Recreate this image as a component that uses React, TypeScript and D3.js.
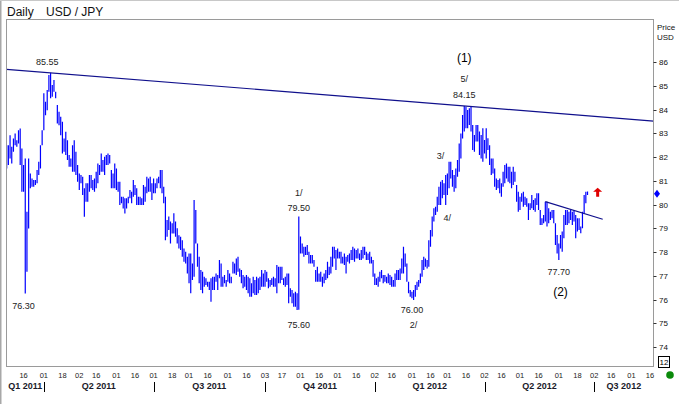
import React from 'react';
import * as d3 from 'd3';

// axis starts on this weekday, the first bar is the next one
const AXIS_START = '2011-03-01';
const AXIS_LAST_TICK = '2012-08-16';

// daily highs / lows, USD/JPY, 2011-03-02 .. 2012-06-25 (weekdays)
const highs = [
  82.5, 82.5, 82.92, 82.43, 82.78, 82.99, 82.71, 83.13, 83.2, 82.36, 81.66, 81.94, 79.69, 81.94, 81.31, 81.1, 81.03, 81.03, 81.45, 81.8, 82.5, 83.13,
  84.68, 84.33, 84.82, 85.45, 85.55, 85.03, 85.24, 84.75, 84.19, 83.91, 83.69, 83.48, 82.78, 83.06, 82.71, 82.08, 81.94,
  82.5, 82.71, 82.22, 81.66, 81.31, 81.24, 81.17, 80.68, 80.89, 80.89, 81.24, 81.24, 81.03, 81.1, 81.38, 81.73, 81.66, 82.15, 81.87, 82.01, 82.08, 82.15, 82.08,
  81.45, 81.31, 81.73, 81.52, 80.96, 80.96, 80.33, 80.33, 80.26, 80.26, 80.33, 80.61, 80.54, 81.03, 80.82, 80.68, 80.33, 80.33, 80.26, 80.82, 80.75,
  81.17, 81.1, 81.17, 80.89, 81.1, 80.89, 81.1, 81.17, 81.45, 81.45, 80.75, 80.33, 79.35, 79.49, 79.28, 79.21, 79.63, 79.28, 79.0, 78.71, 78.64, 78.5,
  78.15, 78.01, 77.8, 77.94, 77.94, 77.52, 80.19, 79.77,
  78.36, 77.8, 77.24, 77.17, 76.96, 76.89, 76.75, 76.75, 76.89, 76.96, 76.96, 77.1, 77.03, 77.66, 77.52, 76.96, 77.03, 76.82, 77.24, 77.1, 76.96,
  77.59, 77.52, 77.73, 77.8, 77.31, 77.24, 77.03, 76.96, 77.03, 76.96, 76.89, 76.68, 76.96, 76.82, 76.96, 76.89, 76.96, 77.24, 77.1, 77.24, 77.17,
  76.89, 76.82, 76.89, 76.96, 76.89, 77.45, 77.38, 77.38, 77.38, 76.89, 76.96, 77.1, 77.1, 76.47, 76.4, 76.26, 76.33, 76.26, 79.5,
  78.65, 78.36, 78.22, 78.22, 78.29, 78.01, 77.87, 77.87, 77.66, 77.24, 77.38, 77.1,
  77.17, 76.96, 77.1, 77.24, 77.59, 77.38, 77.8, 78.22, 78.22, 78.08, 78.15, 78.01, 78.01, 77.8, 77.94, 77.8, 77.87, 77.94, 78.08, 78.22, 78.15,
  78.08, 78.15, 77.94, 78.08, 78.22, 78.22, 78.01, 77.94, 78.01, 77.8, 77.66, 77.1, 76.89, 76.96, 77.17, 77.24, 77.03, 77.03, 76.96, 77.1, 77.03,
  76.96, 76.82, 77.1, 77.24, 77.24, 77.31, 77.73, 78.22, 77.94, 77.52, 76.75, 76.4, 76.33, 76.4, 76.61, 76.75, 76.82, 77.1, 77.66, 77.8, 77.73,
  77.66, 78.5, 78.93, 79.49, 79.84,
  79.91, 80.33, 80.75, 80.96, 81.03, 80.89, 81.24, 81.31, 81.8, 81.8, 81.45, 81.24, 81.52, 81.87, 82.57, 82.99, 83.77, 84.15, 84.12,
  83.98, 84.05, 84.12, 83.35, 82.93, 83.35, 83.35, 83.07, 82.93, 83.21, 82.72, 83.21, 82.79, 82.5, 81.94, 81.94, 81.52, 81.1, 81.03, 81.1, 80.89,
  81.38, 81.66, 81.73, 81.59, 81.59, 81.38, 81.59, 81.38, 80.82, 80.54, 80.33, 80.47, 80.54, 80.33, 80.26, 80.05, 80.05, 80.4, 80.19, 80.26, 80.47,
  80.47, 79.77, 79.42, 79.56, 80.12, 80.12, 79.84, 79.7, 79.77, 79.77, 79.21, 78.72, 78.36, 78.72, 78.86, 79.56, 79.77, 79.77, 79.7, 79.77, 79.7,
  79.77, 79.56, 79.42, 79.42, 79.07, 79.7, 80.4, 80.54, 80.55,
];
const lows = [
  81.52, 81.66, 81.94, 81.73, 82.22, 82.5, 82.43, 82.57, 81.66, 80.54, 80.54, 76.25, 77.17, 78.99, 80.68, 80.75, 80.75, 80.82, 80.89, 81.24, 81.52, 82.5,
  83.13, 83.76, 83.97, 84.75, 84.47, 84.54, 84.75, 84.47, 83.41, 83.34, 82.92, 82.15, 82.22, 82.08, 81.87, 81.59, 81.59,
  81.38, 81.38, 81.24, 80.96, 80.61, 80.89, 80.4, 79.48, 80.12, 80.12, 80.54, 80.68, 80.61, 80.54, 80.68, 80.89, 81.24, 81.38, 81.38, 81.24, 81.66, 81.66, 81.73,
  80.68, 80.68, 80.68, 80.61, 80.54, 79.98, 80.05, 79.83, 79.62, 79.83, 80.05, 80.26, 80.05, 80.33, 80.4, 79.98, 79.98, 79.98, 79.98, 79.98, 80.12,
  80.47, 80.54, 80.54, 80.19, 80.47, 80.47, 80.68, 80.89, 80.68, 80.47, 80.05, 78.5, 78.64, 78.93, 78.36, 78.78, 78.78, 78.64, 78.36, 78.15, 78.08, 77.8,
  77.59, 77.52, 77.1, 76.68, 76.26, 76.82, 76.96, 78.36,
  77.38, 76.68, 76.4, 76.26, 76.54, 76.61, 76.54, 76.4, 75.91, 76.4, 76.4, 76.75, 76.4, 76.89, 76.54, 76.54, 76.68, 76.54, 76.75, 76.68, 76.68,
  77.1, 77.1, 77.03, 77.17, 76.96, 76.68, 76.47, 76.54, 76.4, 76.26, 76.12, 76.12, 76.26, 76.19, 76.19, 76.26, 76.4, 76.54, 76.54, 76.54, 76.75,
  76.47, 76.54, 76.61, 76.54, 76.54, 76.26, 76.68, 76.68, 76.82, 76.61, 76.54, 76.61, 75.84, 76.12, 75.84, 75.7, 75.7, 75.56, 75.57,
  77.94, 77.94, 77.8, 77.87, 77.87, 77.52, 77.52, 77.52, 77.38, 76.75, 76.75, 76.75,
  76.75, 76.54, 76.68, 76.82, 76.89, 77.03, 77.1, 77.38, 77.73, 77.24, 77.73, 77.73, 77.52, 77.52, 77.45, 77.1, 77.59, 77.52, 77.66, 77.66, 77.59,
  77.73, 77.73, 77.66, 77.66, 77.73, 77.87, 77.66, 77.66, 77.52, 77.52, 76.96, 76.61, 76.61, 76.54, 76.75, 76.89, 76.68, 76.75, 76.68, 76.68, 76.61,
  76.54, 76.54, 76.54, 76.82, 76.82, 76.82, 77.1, 77.1, 77.38, 76.75, 76.26, 76.12, 76.05, 75.98, 76.12, 76.4, 76.54, 76.68, 76.96, 77.24, 77.38,
  77.31, 77.38, 78.22, 78.65, 79.28,
  79.56, 79.7, 79.98, 79.98, 80.26, 80.4, 79.98, 80.4, 80.68, 81.1, 80.75, 80.54, 80.68, 81.17, 81.38, 81.94, 82.78, 83.07, 83.21,
  83.21, 83.35, 83.07, 82.29, 82.22, 82.65, 82.65, 82.08, 81.94, 81.8, 82.15, 81.94, 82.29, 81.66, 81.24, 81.31, 80.75, 80.61, 80.68, 80.47, 80.33,
  80.75, 80.89, 81.1, 80.96, 80.89, 80.68, 80.82, 80.96, 80.12, 79.7, 79.77, 80.12, 79.91, 79.98, 79.91, 79.35, 79.77, 79.84, 79.77, 79.7, 79.98,
  79.77, 79.14, 79.14, 79.21, 79.28, 79.07, 79.21, 79.35, 79.42, 79.21, 78.29, 77.94, 77.66, 78.15, 78.01, 78.58, 79.14, 79.14, 79.21, 79.35, 79.14,
  79.28, 78.58, 78.86, 78.93, 78.79, 79.0, 79.63, 80.05, 80.4,
];
const lastPrice = 80.45;

const dayTicks = [
  '2011-03-16', '2011-04-01', '2011-04-18', '2011-05-02', '2011-05-16', '2011-06-01', '2011-06-16', '2011-07-01', '2011-07-18',
  '2011-08-01', '2011-08-16', '2011-09-01', '2011-09-16', '2011-10-03', '2011-10-17', '2011-11-01', '2011-11-16', '2011-12-01',
  '2011-12-16', '2012-01-02', '2012-01-16', '2012-02-01', '2012-02-16', '2012-03-01', '2012-03-16', '2012-04-02', '2012-04-16',
  '2012-05-01', '2012-05-16', '2012-06-01', '2012-06-18', '2012-07-02', '2012-07-16', '2012-08-01', '2012-08-16',
];
const quarterNames = ['Q1 2011', 'Q2 2011', 'Q3 2011', 'Q4 2011', 'Q1 2012', 'Q2 2012', 'Q3 2012'];
const quarterStarts = ['2011-03-01', '2011-04-01', '2011-07-01', '2011-10-03', '2012-01-02', '2012-04-02', '2012-07-02'];

// trend lines: [date, price] pairs
const resistance: [string, number][] = [['2011-04-06', 85.55], ['2012-03-15', 84.15]];
const shortTrend: [string, number][] = [['2012-05-22', 80.12], ['2012-07-09', 79.38]];

// text notes: date for x, price for the baseline
const notes: { d: string; p: number; t: string; size: number }[] = [
  { d: '2011-04-05', p: 85.87, t: '85.55', size: 9 },
  { d: '2011-03-16', p: 75.6, t: '76.30', size: 9 },
  { d: '2011-10-31', p: 80.36, t: '1/', size: 9 },
  { d: '2011-10-31', p: 79.73, t: '79.50', size: 9 },
  { d: '2011-10-31', p: 74.8, t: '75.60', size: 9 },
  { d: '2012-02-01', p: 75.43, t: '76.00', size: 9 },
  { d: '2012-02-02', p: 74.8, t: '2/', size: 9 },
  { d: '2012-02-24', p: 81.92, t: '3/', size: 9 },
  { d: '2012-03-01', p: 79.31, t: '4/', size: 9 },
  { d: '2012-03-15', p: 85.16, t: '5/', size: 9 },
  { d: '2012-03-15', p: 84.48, t: '84.15', size: 9 },
  { d: '2012-03-15', p: 86.0, t: '(1)', size: 12 },
  { d: '2012-06-01', p: 77.03, t: '77.70', size: 9 },
  { d: '2012-06-04', p: 76.15, t: '(2)', size: 12 },
];
const arrowAt: [string, number] = ['2012-07-04', 80.5];

const W = 679;
const H = 408;
const left = 6.5;
const right = 653.5;
const top = 19.5;
const bottom = 366.5;
const FONT = "Arial, 'Liberation Sans', sans-serif";

// list of weekdays on the axis
const days: string[] = [];
{
  const d = new Date(AXIS_START + 'T00:00:00Z');
  const end = new Date('2012-09-30T00:00:00Z');
  while (d <= end) {
    const wd = d.getUTCDay();
    if (wd !== 0 && wd !== 6) days.push(d.toISOString().slice(0, 10));
    d.setUTCDate(d.getUTCDate() + 1);
  }
}
const dayIndex = (s: string) => days.indexOf(s);

const App: React.FC = () => {
  const x = d3.scaleLinear().domain([0, dayIndex(AXIS_LAST_TICK)]).range([5, 650]);
  const y = d3.scaleLinear().domain([74, 86]).range([347, 62]);
  const xd = (s: string) => x(dayIndex(s));

  // extend the resistance line over the full plot width
  const r0 = [xd(resistance[0][0]), y(resistance[0][1])];
  const r1 = [xd(resistance[1][0]), y(resistance[1][1])];
  const slope = (r1[1] - r0[1]) / (r1[0] - r0[0]);
  const resY = (px: number) => r0[1] + (px - r0[0]) * slope;

  const qx = quarterStarts.map((q) => Math.max(left, xd(q)));
  const ax = xd(arrowAt[0]);
  const ay = y(arrowAt[1]);
  const ly = y(lastPrice);

  return (
    <svg width={W} height={H} style={{ position: 'absolute', left: 0, top: 0, background: '#fff' }} fontFamily={FONT}>
      <rect x={0} y={0} width={W} height={H} fill="#fff" />
      <line x1={0.5} y1={0} x2={0.5} y2={H - 4} stroke="#a8a8a8" strokeWidth={2} />
      <line x1={0} y1={0.5} x2={W} y2={0.5} stroke="#c8c8c8" strokeWidth={1} />

      <text x={7} y={16} fontSize={12} fill="#111">Daily</text>
      <text x={46} y={16} fontSize={12} fill="#111">USD / JPY</text>

      <clipPath id="plot">
        <rect x={left} y={top} width={right - left} height={bottom - top} />
      </clipPath>

      <g clipPath="url(#plot)">
        {highs.map((h, i) => {
          const px = x(i + 1);
          return <line key={i} x1={px} x2={px} y1={y(h)} y2={y(lows[i])} stroke="#0000ff" strokeWidth={1.2} />;
        })}
        <line x1={left} y1={resY(left)} x2={right} y2={resY(right)} stroke="#10108c" strokeWidth={1.2} />
        <line
          x1={xd(shortTrend[0][0])}
          y1={y(shortTrend[0][1])}
          x2={xd(shortTrend[1][0])}
          y2={y(shortTrend[1][1])}
          stroke="#10108c"
          strokeWidth={1.2}
        />
      </g>

      <path
        d={`M${ax},${ay - 5} L${ax + 4.5},${ay - 1} L${ax + 1.5},${ay - 1} L${ax + 1.5},${ay + 4} L${ax - 1.5},${ay + 4} L${ax - 1.5},${ay - 1} L${ax - 4.5},${ay - 1} Z`}
        fill="#e00000"
      />

      {notes.map((n, i) => (
        <text key={i} x={xd(n.d)} y={y(n.p)} fontSize={n.size} textAnchor="middle" fill={n.size > 9 ? '#000' : '#222'}>
          {n.t}
        </text>
      ))}

      <rect x={left} y={top} width={right - left} height={bottom - top} fill="none" stroke="#9a9a9a" strokeWidth={1} />

      {/* price axis */}
      <text x={657} y={30} fontSize={8} fill="#111">Price</text>
      <text x={657} y={40} fontSize={8} fill="#111">USD</text>
      {y.ticks(12).map((t) => (
        <g key={t}>
          <line x1={right} x2={right + 3} y1={Math.round(y(t)) + 0.5} y2={Math.round(y(t)) + 0.5} stroke="#333" />
          <text x={659} y={y(t) + 3} fontSize={8} fill="#111">{t}</text>
        </g>
      ))}
      <path d={`M657,${ly - 4} L660,${ly} L657,${ly + 4} L654,${ly} Z`} fill="#0000ff" />
      <rect x={658.5} y={356.5} width={11} height={11} fill="#fff" stroke="#000" />
      <text x={664} y={365} fontSize={8} textAnchor="middle" fill="#000">12</text>
      <circle cx={670} cy={375} r={3.8} fill="#0b8a0b" />

      {/* date axis */}
      {dayTicks.map((d) => (
        <text key={d} x={xd(d)} y={378} fontSize={7.5} textAnchor="middle" fill="#222">
          {d.slice(8)}
        </text>
      ))}
      {quarterStarts.slice(1).map((q) => (
        <line key={q} x1={Math.round(xd(q)) + 0.5} x2={Math.round(xd(q)) + 0.5} y1={382} y2={392} stroke="#000" />
      ))}
      {quarterNames.map((name, i) => {
        const a = qx[i];
        const b = i + 1 < qx.length ? qx[i + 1] : right;
        return (
          <text key={name} x={(a + b) / 2} y={389} fontSize={9} fontWeight="bold" textAnchor="middle" fill="#1a1a2a">
            {name}
          </text>
        );
      })}
    </svg>
  );
};

export default App;
